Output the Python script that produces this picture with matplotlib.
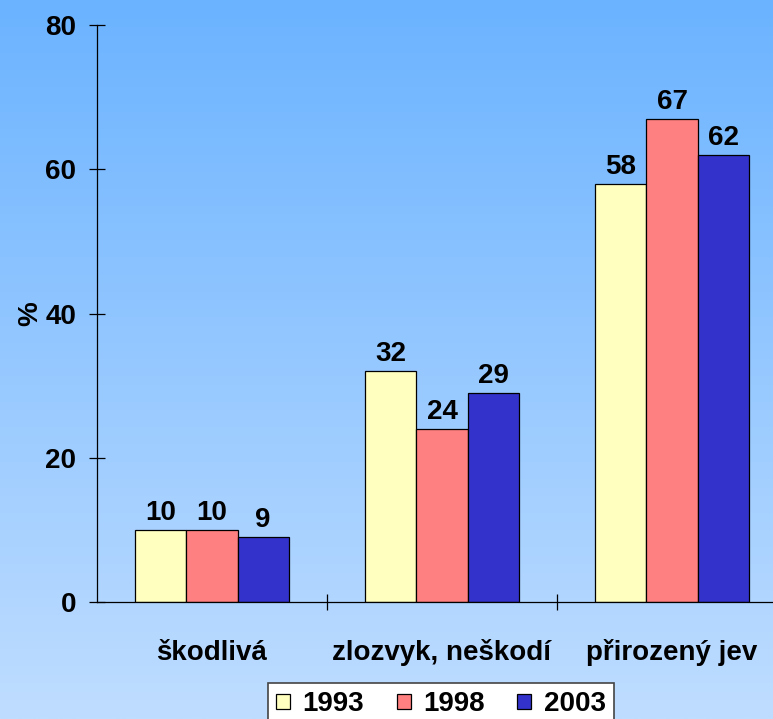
import numpy as np
import matplotlib.pyplot as plt
from matplotlib.colors import LinearSegmentedColormap

categories = ['škodlivá', 'zlozvyk, neškodí', 'přirozený jev']
years = ['1993', '1998', '2003']
v1993 = [10, 32, 58]
v1998 = [10, 24, 67]
v2003 = [9, 29, 62]
colors = ['#FFFFC0', '#FF8080', '#3333CC']

plt.rcParams['font.family'] = ['Liberation Sans', 'DejaVu Sans']
plt.rcParams['font.weight'] = 'bold'
fs = 20

fig = plt.figure(figsize=(7.73, 7.19), dpi=100)

# background gradient
bg = fig.add_axes([0, 0, 1, 1], zorder=-10)
cmap = LinearSegmentedColormap.from_list('bg', ['#6BB3FF', '#BFDDFF'])
bg.imshow(np.linspace(0, 1, 256).reshape(-1, 1), aspect='auto', cmap=cmap,
          extent=[0, 1, 0, 1])
bg.axis('off')

ax = fig.add_axes([97/773, 1 - 602/719, 690/773, 577/719])
ax.set_facecolor('none')

x = np.arange(len(categories))
w = 0.222
for i, (vals, yr) in enumerate(zip([v1993, v1998, v2003], years)):
    bars = ax.bar(x + (i - 1) * w, vals, w, color=colors[i], edgecolor='black',
                  linewidth=0.9, label=yr)
    ax.bar_label(bars, padding=3, fontsize=fs, fontweight='bold')

ax.set_xlim(-0.5, 2.5)
ax.set_ylim(0, 80)
ax.set_yticks([0, 20, 40, 60, 80])
ax.set_xticks(x)
ax.set_xticklabels(categories)
ax.set_xticks([0.5, 1.5], minor=True)
ax.tick_params(axis='x', which='major', length=0, pad=27, labelsize=fs)
ax.tick_params(axis='x', which='minor', direction='inout', length=12, width=0.9)
ax.tick_params(axis='y', direction='inout', length=12, width=0.9, pad=9, labelsize=fs)
for s in ['top', 'right']:
    ax.spines[s].set_visible(False)
for s in ['left', 'bottom']:
    ax.spines[s].set_linewidth(0.9)
ax.spines['bottom'].set_clip_on(False)
ax.set_ylabel('%', fontsize=fs, fontweight='bold', va='center')
ax.yaxis.set_label_coords(-67/690, 0.5)

leg = fig.legend(loc='upper left', bbox_to_anchor=(268/773, 1 - 683/719), ncol=3,
                 fontsize=fs, frameon=True, fancybox=False, borderaxespad=0,
                 handlelength=0.5, handleheight=0.5, handletextpad=0.45,
                 columnspacing=1.17, borderpad=0.3)
leg.get_frame().set_edgecolor('#444444')
leg.get_frame().set_linewidth(1.2)
leg.get_frame().set_facecolor('white')
leg.get_frame().set_alpha(1)

fig.savefig('out.png', dpi=100)
